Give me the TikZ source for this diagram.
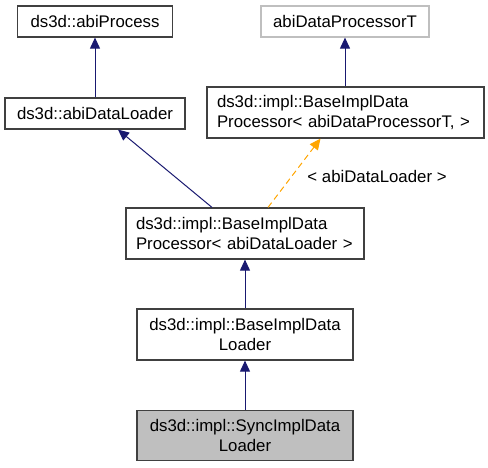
\documentclass[tikz,border=0pt]{standalone}
\usepackage{fontspec}
\setmainfont{Liberation Sans}
\usetikzlibrary{arrows.meta}

\definecolor{edgeblue}{HTML}{191970}
\definecolor{edgeorange}{HTML}{FFA500}
\definecolor{boxgray}{HTML}{404040}

\begin{document}
\begin{tikzpicture}[x=1pt,y=-1pt,
	cls/.style={draw=boxgray, line width=1.2pt, fill=white, inner sep=0pt, font=\fontsize{16.8}{20}\selectfont},
	inh/.style={draw=edgeblue, line width=1pt, -{Triangle[length=11pt,width=10pt]}},
	tpl/.style={draw=edgeorange, line width=1pt, dashed, dash pattern=on 6pt off 4pt, -{Triangle[length=11pt,width=10pt]}}]
			\useasboundingbox (0,0) rectangle (488,467);
			\node [cls, minimum width=155pt, minimum height=31pt] (proc) at (95,21.5) {ds3d::abiProcess};
			\node [cls, draw=gray!50, minimum width=168pt, minimum height=31pt] (dpt) at (345,21.5) {abiDataProcessorT};
			\node [cls, minimum width=180pt, minimum height=31pt] (loader) at (95,113.5) {ds3d::abiDataLoader};
			\node [cls, minimum width=277pt, minimum height=51pt, text width=257pt, align=left] (bidpT) at (345.5,112.5) {ds3d::impl::BaseImplData\\Processor< abiDataProcessorT, >};
			\node [cls, minimum width=238pt, minimum height=51pt, text width=218pt, align=left] (bidpL) at (245,233.5) {ds3d::impl::BaseImplData\\Processor< abiDataLoader >};
			\node [cls, minimum width=216pt, minimum height=51pt, align=center] (bidl) at (245,334.5) {ds3d::impl::BaseImplData\\Loader};
			\node [cls, fill=gray!50, minimum width=216pt, minimum height=50pt, align=center] (sidl) at (245,435.5) {ds3d::impl::SyncImplData\\Loader};
			% inheritance
			\draw [inh] (loader) -- (proc);
			\draw [inh] (bidpT.north -| dpt) -- (dpt);
			\draw [inh] ([xshift=-33pt]bidpL.north) -- ([xshift=23pt]loader.south);
			\draw [tpl] ([xshift=23pt]bidpL.north) -- ([xshift=-25pt]bidpT.south) node [pos=0.45, right=12pt, font=\fontsize{16.8}{20}\selectfont] (arg) {< abiDataLoader >};
			\draw [inh] (bidl) -- (bidpL);
			\draw [inh] (sidl) -- (bidl);
\end{tikzpicture}
\end{document}
